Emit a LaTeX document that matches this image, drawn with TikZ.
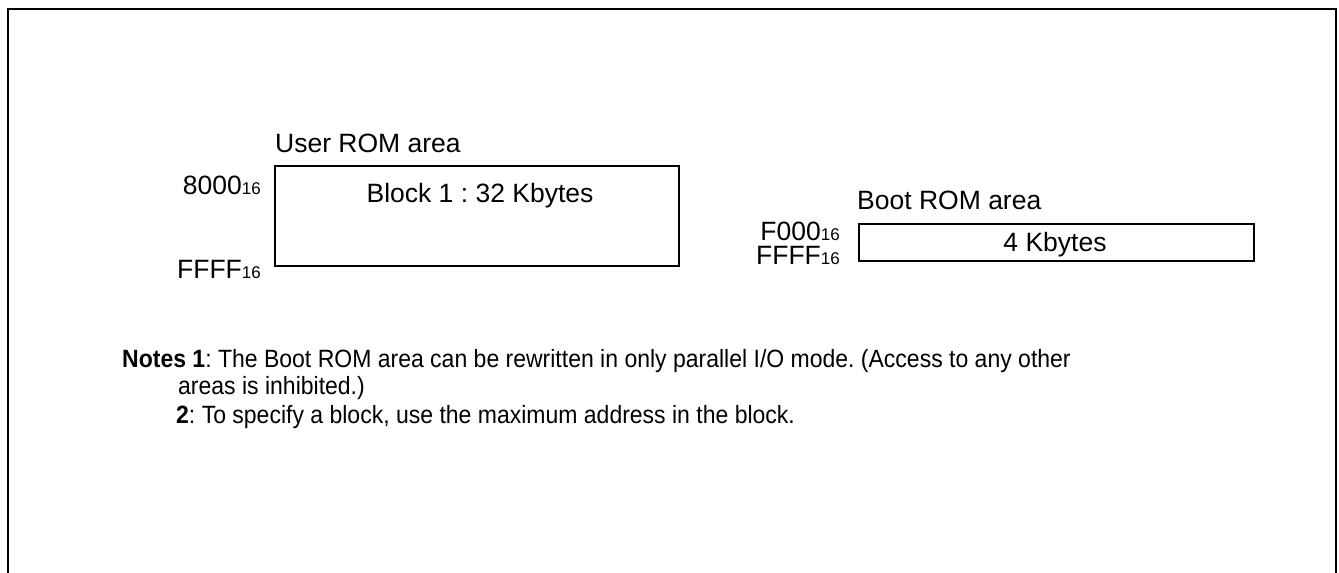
\documentclass[tikz,border=0pt]{standalone}
\usepackage{fontspec}
\setmainfont{Liberation Sans}
\usetikzlibrary{positioning}
\frenchspacing
\newcommand{\hexsub}[1]{{\fontsize{17}{20}\selectfont #1}}
\newcommand{\notetext}[1]{\scalebox{0.92}[1]{\fontsize{25}{29}\selectfont #1}}

\begin{document}
\begin{tikzpicture}[x=1pt, y=-1pt, font=\fontsize{26.5}{30}\selectfont,
    area/.style={draw, line width=1.6pt, anchor=north west, inner sep=0pt},
    addr/.style={anchor=base east, inner sep=0pt},
    txt/.style={anchor=base west, inner sep=0pt}]
    \useasboundingbox (0,0) rectangle (1339,573);
    % outer frame, open at the bottom
    \coordinate (fbl) at (8,573);
    \coordinate (ftl) at (8,9);
    \coordinate (ftr) at (1336,9);
    \coordinate (fbr) at (1336,573);
    \draw[line width=2.2pt] (fbl) -- (ftl) -- (ftr) -- (fbr);

    % user ROM area
    \node[area, minimum width=404pt, minimum height=100pt] (user) at (274,165) {};
    \node[txt] (usertitle) at (275,152) {User ROM area};
    \node[anchor=base, inner sep=0pt] (userblk) at (480,202) {Block 1 : 32 Kbytes};
    \node[addr] (usertop) at (261,194) {8000\hexsub{16}};
    \node[addr] (userbot) at (261,278) {FFFF\hexsub{16}};

    % boot ROM area
    \node[area, minimum width=395pt, minimum height=37pt] (boot) at (858,223) {};
    \node[txt] (boottitle) at (857,209) {Boot ROM area};
    \node[anchor=base, inner sep=0pt] (bootblk) at (1055,251) {4 Kbytes};
    \node[addr] (boottop) at (840,240) {F000\hexsub{16}};
    \node[addr] (bootbot) at (840,264) {FFFF\hexsub{16}};

    % notes
    \node[txt] (note1) at (122,367) {\notetext{\textbf{Notes 1}: The Boot ROM area can be rewritten in only parallel I/O mode. (Access to any other}};
    \node[txt] (note1b) at (178,394) {\notetext{areas is inhibited.)}};
    \node[txt] (note2) at (176,423) {\notetext{\textbf{2}: To specify a block, use the maximum address in the block.}};
\end{tikzpicture}
\end{document}
